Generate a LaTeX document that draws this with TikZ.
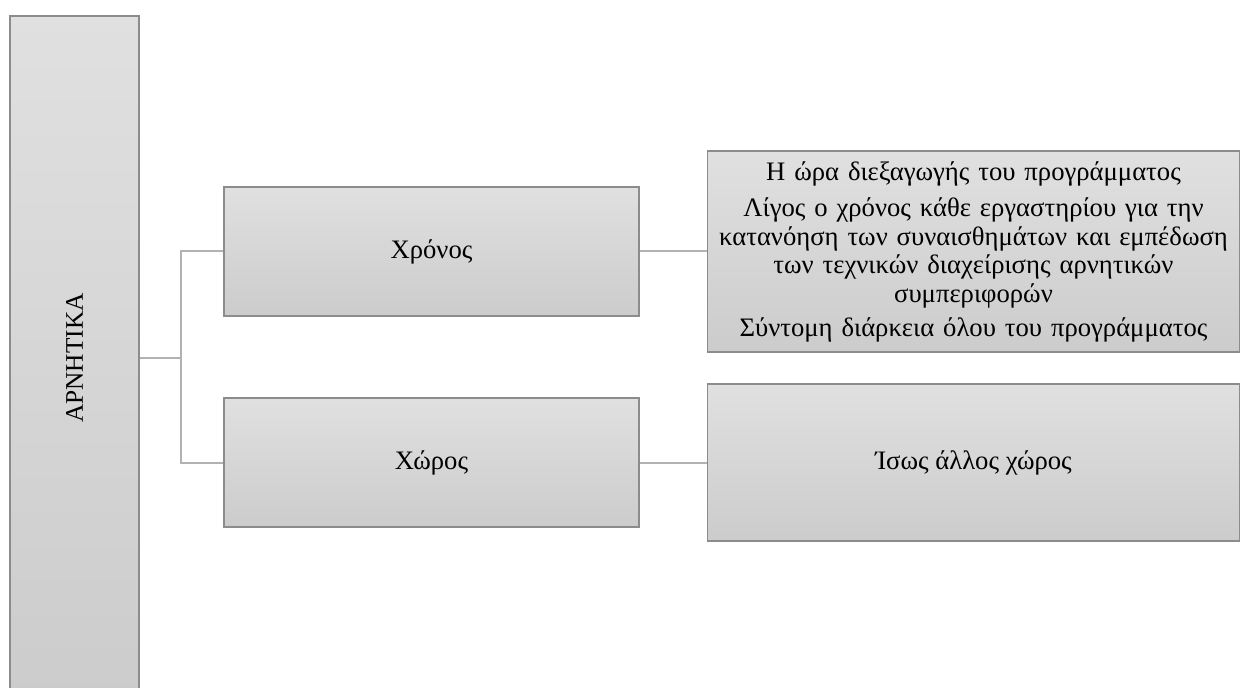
\documentclass[tikz,border=0pt]{standalone}
\usepackage{fontspec}
\setmainfont{Liberation Serif}
\usepackage{tikz}
\colorlet{boxline}{black!45}
\colorlet{link}{black!30}
\definecolor{boxtop}{HTML}{E0E0E0}
\definecolor{boxbot}{HTML}{CCCCCC}
\tikzset{
  gbox/.style={draw=boxline,line width=.9pt,top color=boxtop,bottom color=boxbot,
    inner sep=1pt,font=\fontsize{20}{21.4}\selectfont},
  glink/.style={draw=link,line width=1.5pt}
}
\begin{document}
\begin{tikzpicture}[x=0.75pt,y=-0.75pt]
  \useasboundingbox (0,0) rectangle (1240,688);
  \node[gbox,minimum width=96.75pt,minimum height=513pt] (root) at (74.5,358) {};
  \node[rotate=90,font=\fontsize{19}{21}\selectfont] (rootlbl) at (root.center) {ΑΡΝΗΤΙΚΑ};
  \node[gbox,minimum width=311.25pt,minimum height=96.75pt] (xronos) at (431.5,251.5) {Χρόνος};
  \node[gbox,minimum width=311.25pt,minimum height=96.75pt] (xoros) at (431.5,462.5) {Χώρος};
  \node[gbox,minimum width=399pt,minimum height=150.75pt,text width=396pt,align=center] (xronosd) at (973.5,251.5)
    {Η ώρα διεξαγωγής του προγράμματος\\[6pt]
     Λίγος ο χρόνος κάθε εργαστηρίου για την\\
     κατανόηση των συναισθημάτων και εμπέδωση\\
     των τεχνικών διαχείρισης αρνητικών\\
     συμπεριφορών\\[4pt]
     Σύντομη διάρκεια όλου του προγράμματος};
  \node[gbox,minimum width=399pt,minimum height=117.75pt] (xorosd) at (973.5,462.5) {Ίσως άλλος χώρος};
  \coordinate (fork) at (181,358);
  \draw[glink] (root.east |- fork) -- (fork) |- (xronos.west);
  \draw[glink] (fork) |- (xoros.west);
  \draw[glink] (xronos.east) -- (xronosd.west);
  \draw[glink] (xoros.east) -- (xorosd.west);
\end{tikzpicture}
\end{document}
